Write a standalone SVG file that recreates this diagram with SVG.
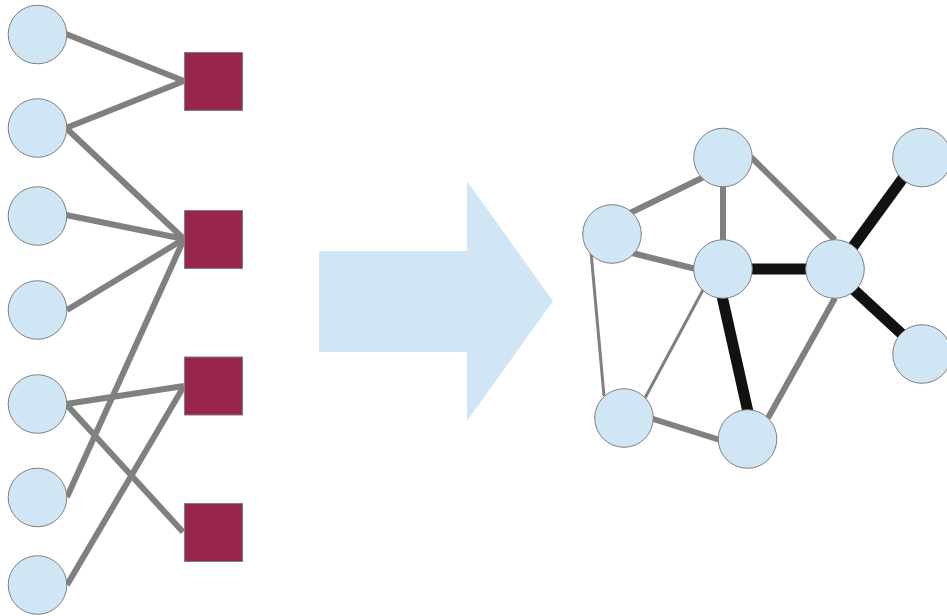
<svg xmlns="http://www.w3.org/2000/svg" width="947" height="616" viewBox="0 0 947 616">
<style>
.n{fill:#d0e6f4;stroke:#7f7f7f;stroke-width:1}
.s{fill:#98254a;stroke:#7f7f7f;stroke-width:1}
.g{stroke:#808080;stroke-width:6;fill:none}
.t{stroke:#808080;stroke-width:3;fill:none}
.k{stroke:#111;stroke-width:11;fill:none}
</style>
<rect width="947" height="616" fill="#fff"/>
<g id="connectors">
<line class="g" x1="66" y1="34" x2="184" y2="81"/>
<line class="g" x1="66" y1="128" x2="184" y2="81"/>
<line class="g" x1="66" y1="128" x2="184" y2="239"/>
<line class="g" x1="66" y1="215" x2="184" y2="239"/>
<line class="g" x1="67" y1="310" x2="184" y2="239"/>
<line class="g" x1="67" y1="497" x2="184" y2="239"/>
<line class="g" x1="66" y1="404" x2="184" y2="386"/>
<line class="g" x1="66" y1="404" x2="183" y2="532"/>
<line class="g" x1="67" y1="585" x2="184" y2="386"/>
<line class="g" x1="630" y1="213" x2="706" y2="176"/>
<line class="g" x1="632" y1="253" x2="700" y2="270"/>
<line class="g" x1="723" y1="186" x2="723" y2="242"/>
<line class="g" x1="751" y1="157" x2="835" y2="240"/>
<line class="k" x1="750" y1="269" x2="808" y2="269"/>
<line class="k" x1="852" y1="248" x2="906" y2="174"/>
<line class="k" x1="853" y1="289" x2="904" y2="336"/>
<line class="k" x1="722" y1="296" x2="748" y2="412"/>
<line class="g" x1="835" y1="298" x2="768" y2="418"/>
<line class="t" x1="704" y1="288" x2="645" y2="398"/>
<line class="t" x1="591" y1="252" x2="604" y2="396"/>
<line class="g" x1="650" y1="418" x2="720" y2="440"/>
</g>
<polygon id="arrow" points="319,251 467,251 467,181 553,301 467,421 467,352 319,352" fill="#d0e6f4"/>
<g id="L1"><circle class="n" cx="37.5" cy="34.5" r="29.3"/></g>
<g id="L2"><circle class="n" cx="37.5" cy="128" r="29.3"/></g>
<g id="L3"><circle class="n" cx="37.5" cy="216" r="29.3"/></g>
<g id="L4"><circle class="n" cx="37.5" cy="310" r="29.3"/></g>
<g id="L5"><circle class="n" cx="37.5" cy="404" r="29.3"/></g>
<g id="L6"><circle class="n" cx="37.5" cy="497.5" r="29.3"/></g>
<g id="L7"><circle class="n" cx="37.5" cy="585" r="29.3"/></g>
<g id="S1"><rect class="s" x="184.5" y="52.5" width="58" height="58"/></g>
<g id="S2"><rect class="s" x="184.5" y="210.5" width="58" height="58"/></g>
<g id="S3"><rect class="s" x="184.5" y="357" width="58" height="58"/></g>
<g id="S4"><rect class="s" x="184.5" y="503.5" width="58" height="58"/></g>
<g id="A"><circle class="n" cx="612" cy="234" r="29.3"/></g>
<g id="B"><circle class="n" cx="723" cy="157.5" r="29.3"/></g>
<g id="C"><circle class="n" cx="723" cy="269" r="29.3"/></g>
<g id="D"><circle class="n" cx="835" cy="269" r="29.3"/></g>
<g id="E"><circle class="n" cx="922" cy="157.5" r="29.3"/></g>
<g id="F"><circle class="n" cx="922" cy="354" r="29.3"/></g>
<g id="G"><circle class="n" cx="624" cy="418" r="29.3"/></g>
<g id="H"><circle class="n" cx="747.5" cy="439" r="29.3"/></g>
</svg>
